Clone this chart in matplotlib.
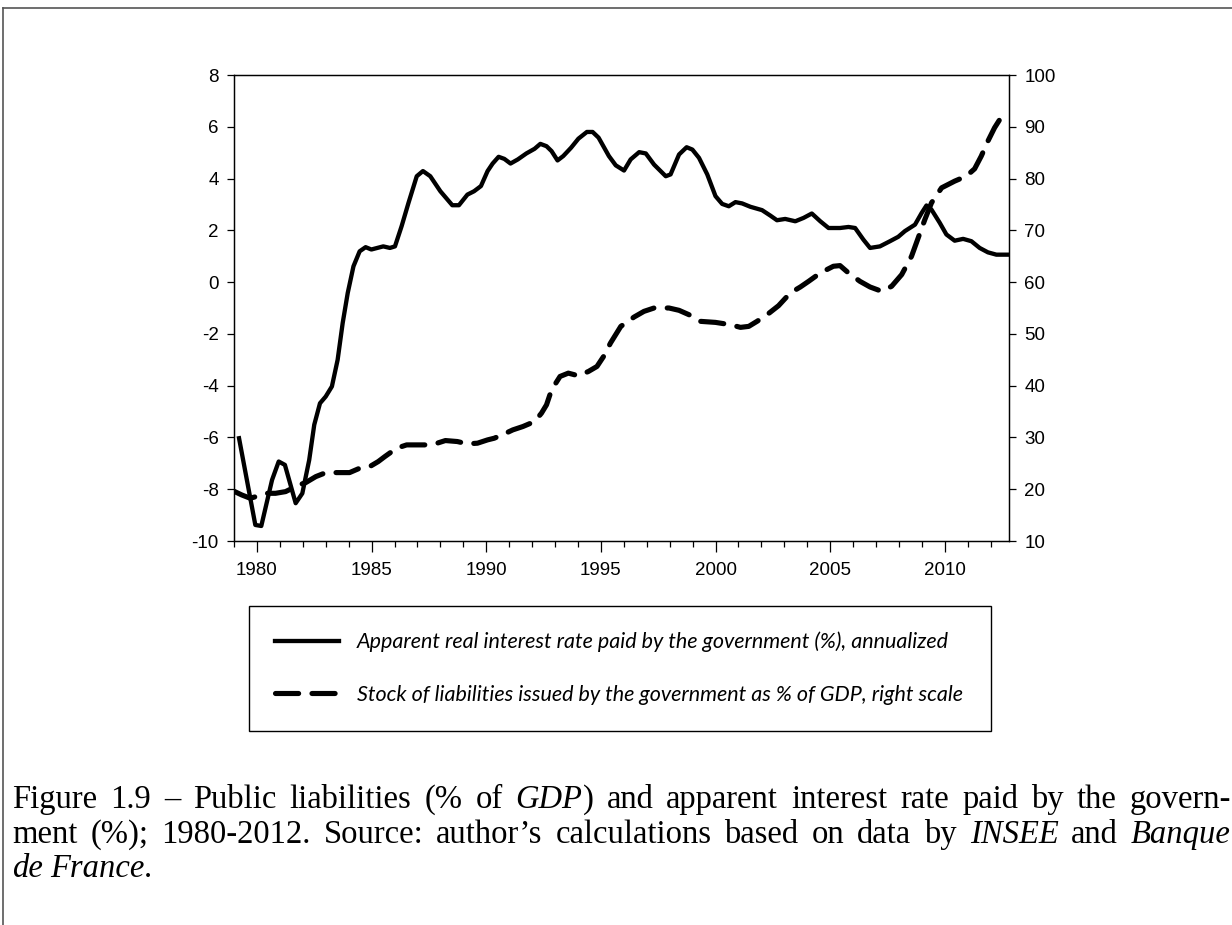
import matplotlib
matplotlib.use("Agg")
import matplotlib.pyplot as plt
from matplotlib.lines import Line2D
from matplotlib.transforms import IdentityTransform
from matplotlib.ticker import MultipleLocator

# apparent real interest rate (%), left scale
rate_years = [1979.22, 1979.93, 1980.19, 1980.66, 1980.95, 1981.22, 1981.69, 1981.98,
              1982.28, 1982.50, 1982.75, 1983.00, 1983.27, 1983.52, 1983.74, 1983.96,
              1984.21, 1984.48, 1984.74, 1984.99, 1985.51, 1985.80, 1986.02, 1986.31,
              1986.61, 1986.97, 1987.24, 1987.56, 1988.00, 1988.52, 1988.81, 1989.18,
              1989.47, 1989.77, 1990.06, 1990.28, 1990.54, 1990.79, 1991.06, 1991.38,
              1991.75, 1992.11, 1992.36, 1992.63, 1992.85, 1993.11, 1993.36, 1993.70,
              1994.02, 1994.39, 1994.64, 1994.90, 1995.35, 1995.65, 1996.01, 1996.30,
              1996.67, 1996.96, 1997.32, 1997.83, 1998.04, 1998.41, 1998.74, 1998.99,
              1999.28, 1999.64, 2000.00, 2000.29, 2000.58, 2000.87, 2001.16, 2001.52,
              2002.03, 2002.39, 2002.68, 2003.04, 2003.48, 2003.84, 2004.20, 2004.57,
              2004.93, 2005.43, 2005.80, 2006.09, 2006.45, 2006.74, 2007.17, 2007.61,
              2007.97, 2008.26, 2008.70, 2008.99, 2009.20, 2009.42, 2009.78, 2010.07,
              2010.43, 2010.80, 2011.16, 2011.52, 2011.88, 2012.25, 2012.75]
rate = [-6.03, -9.38, -9.42, -7.64, -6.93, -7.06, -8.54, -8.16,
        -6.87, -5.51, -4.68, -4.42, -4.03, -3.00, -1.58, -0.42,
        0.61, 1.19, 1.35, 1.26, 1.38, 1.32, 1.38, 2.16,
        3.06, 4.09, 4.29, 4.09, 3.51, 2.97, 2.97, 3.38,
        3.51, 3.71, 4.29, 4.58, 4.84, 4.76, 4.58, 4.74,
        4.97, 5.15, 5.34, 5.25, 5.06, 4.70, 4.87, 5.19,
        5.54, 5.80, 5.80, 5.58, 4.87, 4.51, 4.31, 4.74,
        5.02, 4.97, 4.54, 4.09, 4.16, 4.93, 5.21, 5.12,
        4.80, 4.16, 3.32, 3.02, 2.93, 3.09, 3.04, 2.91,
        2.78, 2.57, 2.39, 2.44, 2.35, 2.48, 2.65, 2.35,
        2.09, 2.09, 2.13, 2.09, 1.64, 1.32, 1.38, 1.58,
        1.75, 1.97, 2.22, 2.67, 2.96, 2.80, 2.29, 1.84,
        1.60, 1.67, 1.58, 1.32, 1.15, 1.06, 1.06]

# stock of liabilities (% of GDP), right scale
debt_years = [1978.97, 1979.34, 1979.71, 1980.44, 1980.81, 1981.25, 1981.84, 1982.13,
              1982.57, 1983.01, 1983.60, 1984.04, 1984.48, 1984.92, 1985.29, 1985.58,
              1986.09, 1986.53, 1986.97, 1987.42, 1987.86, 1988.22, 1988.74, 1989.18,
              1989.62, 1990.06, 1990.35, 1990.79, 1991.16, 1991.60, 1992.11, 1992.41,
              1992.63, 1992.85, 1993.22, 1993.58, 1994.02, 1994.46, 1994.83, 1995.12,
              1995.42, 1995.87, 1996.45, 1996.88, 1997.32, 1997.97, 1998.41, 1998.84,
              1999.35, 2000.00, 2000.65, 2001.09, 2001.45, 2001.81, 2002.25, 2002.75,
              2003.26, 2003.70, 2004.06, 2004.57, 2005.14, 2005.43, 2005.80, 2006.30,
              2006.74, 2007.25, 2007.68, 2008.12, 2008.55, 2008.84, 2009.13, 2009.42,
              2009.86, 2010.43, 2010.94, 2011.30, 2011.59, 2011.88, 2012.17, 2012.61]
debt = [19.67, 18.89, 18.25, 19.21, 19.21, 19.54, 20.83, 21.28,
        22.44, 23.21, 23.21, 23.21, 24.05, 24.37, 25.34, 26.31,
        27.92, 28.56, 28.56, 28.56, 28.89, 29.40, 29.21, 28.76,
        28.89, 29.53, 29.85, 30.69, 31.46, 32.11, 33.07, 34.69,
        36.30, 39.20, 41.78, 42.42, 41.91, 42.75, 43.71, 45.65,
        48.23, 51.45, 53.26, 54.35, 55.00, 55.00, 54.55, 53.71,
        52.42, 52.22, 51.77, 51.26, 51.45, 52.42, 53.71, 55.45,
        57.90, 59.06, 60.15, 61.77, 63.06, 63.19, 61.77, 60.15,
        59.06, 58.22, 59.19, 61.45, 65.00, 68.54, 72.08, 75.31,
        78.21, 79.50, 80.47, 81.88, 84.33, 87.23, 89.81, 92.90]

labels = ["Apparent real interest rate paid by the government (%), annualized",
          "Stock of liabilities issued by the government as % of GDP, right scale"]

caption = [
    [[("Figure", 0)], [("1.9", 0)], [("\u2013", 0)], [("Public", 0)], [("liabilities", 0)],
     [("(%", 0)], [("of", 0)], [("GDP", 1), (")", 0)], [("and", 0)], [("apparent", 0)],
     [("interest", 0)], [("rate", 0)], [("paid", 0)], [("by", 0)], [("the", 0)], [("govern-", 0)]],
    [[("ment", 0)], [("(%);", 0)], [("1980-2012.", 0)], [("Source:", 0)], [("author\u2019s", 0)],
     [("calculations", 0)], [("based", 0)], [("on", 0)], [("data", 0)], [("by", 0)],
     [("INSEE", 1)], [("and", 0)], [("Banque", 1)]],
    [[("de", 1)], [("France", 1), (".", 0)]],
]

plt.rcParams['font.family'] = ['Liberation Sans', 'DejaVu Sans']
plt.rcParams['axes.unicode_minus'] = False

W, H = 1232, 925
fig = plt.figure(figsize=(W / 100, H / 100), dpi=100)
ax = fig.add_axes([234 / W, 1 - 541 / H, (1009 - 234) / W, (541 - 75) / H])
ax2 = ax.twinx()

l1, = ax.plot(rate_years, rate, color='black', lw=3.1, solid_joinstyle='round')
l2, = ax2.plot(debt_years, debt, color='black', lw=3.7, dashes=(4.5, 2.6),
               dash_capstyle='round')

ax.set_xlim(1979.0, 2012.8)
ax.set_ylim(-10, 8)
ax2.set_ylim(10, 100)
ax.set_yticks(range(-10, 9, 2))
ax2.set_yticks(range(10, 101, 10))
ax.xaxis.set_major_locator(MultipleLocator(5))
ax.xaxis.set_minor_locator(MultipleLocator(1))

for a in (ax, ax2):
    for s in a.spines.values():
        s.set_linewidth(0.9)
ax.tick_params(axis='x', which='major', direction='out', length=8, width=0.9,
               labelsize=13.5, pad=7)
ax.tick_params(axis='x', which='minor', direction='out', length=4.5, width=0.9)
ax.tick_params(axis='y', direction='out', length=5, width=0.9, labelsize=13.5, pad=6)
ax2.tick_params(axis='y', direction='out', length=5, width=0.9, labelsize=13.5, pad=6)

leg = fig.legend([l1, l2], labels, loc='upper left',
                 bbox_to_anchor=(249 / W, 1 - 606 / H, (991 - 249) / W, 0.0),
                 mode='expand', fancybox=False, framealpha=1, edgecolor='black',
                 prop={'family': 'Lato', 'style': 'italic', 'size': 15.5},
                 handlelength=3.0, handletextpad=0.8, labelspacing=1.5,
                 borderpad=1.2, borderaxespad=0)
leg.get_frame().set_linewidth(1.0)

# page frame
fig.add_artist(Line2D([3 / W, 1], [1 - 7.5 / H] * 2, transform=fig.transFigure,
                      color='#555555', lw=1.2))
fig.add_artist(Line2D([3 / W] * 2, [0, 1 - 7.5 / H], transform=fig.transFigure,
                      color='#555555', lw=1.2))

# justified caption
fig.canvas.draw()
r = fig.canvas.get_renderer()
csize = 23.5
serif = 'Liberation Serif'


def seg_text(x, y, s, it):
    return fig.text(x, y, s, transform=IdentityTransform(), fontsize=csize,
                    family=serif, style='italic' if it else 'normal', va='baseline')


def seg_width(s, it):
    t = seg_text(0, 0, s, it)
    w = t.get_window_extent(renderer=r).width
    t.remove()
    return w


x0, x1 = 12, 1231
baselines = [H - 808, H - 843, H - 877]
for li, (words, yb) in enumerate(zip(caption, baselines)):
    ww = [sum(seg_width(s, it) for s, it in word) for word in words]
    if li < 2:
        gap = (x1 - x0 - sum(ww)) / (len(words) - 1)
    else:
        gap = csize * 0.3
    x = x0
    for word, w in zip(words, ww):
        xx = x
        for s, it in word:
            seg_text(xx, yb, s, it)
            xx += seg_width(s, it)
        x += w + gap

fig.savefig("out.png", dpi=100)
